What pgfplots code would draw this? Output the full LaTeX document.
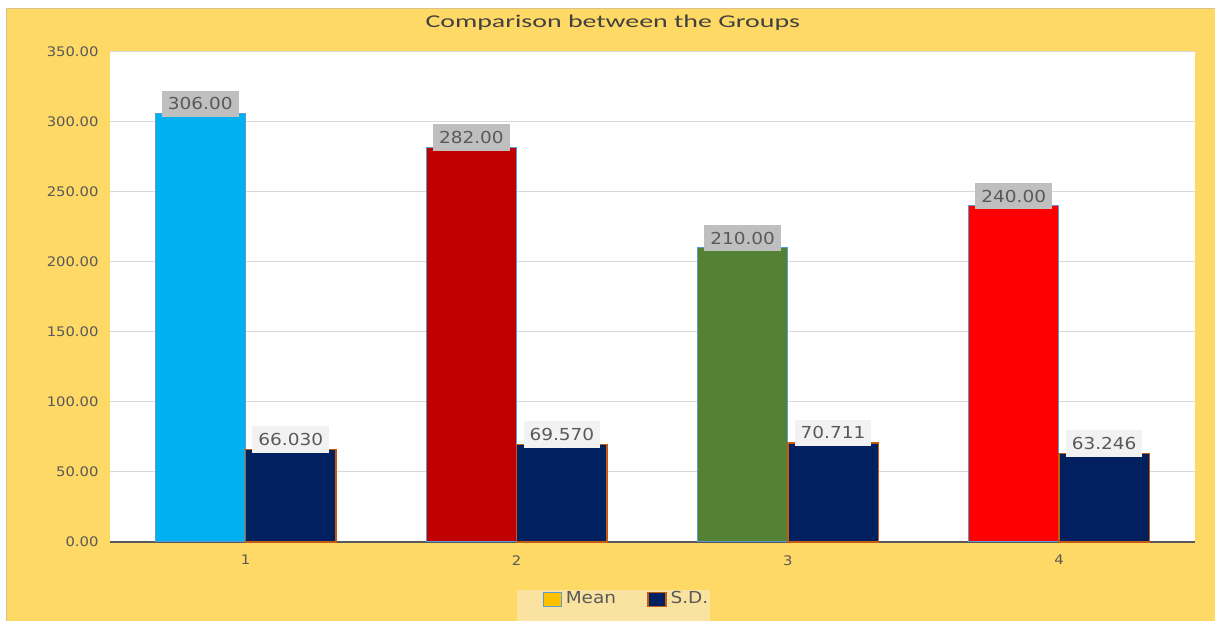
\documentclass[border=0pt]{standalone}
\usepackage{fontspec}
\setmainfont{DejaVu Sans}
\newfontfamily\numfam{DejaVu Sans}[FakeStretch=1.12]
\newfontfamily\titlefont{Carlito}[FakeStretch=1.55]
\usepackage{pgfplots}
\pgfplotsset{compat=1.18}

\definecolor{bgyellow}{HTML}{FFD966}
\definecolor{bgedge}{HTML}{D8C28A}
\definecolor{legbg}{HTML}{FAE3A0}
\definecolor{txtgray}{HTML}{595959}
\definecolor{titlegray}{HTML}{404040}
\definecolor{gridgray}{HTML}{D9D9D9}
\definecolor{gOne}{HTML}{00B0F0}
\definecolor{gTwo}{HTML}{C00000}
\definecolor{gThree}{HTML}{548235}
\definecolor{gFour}{HTML}{FF0000}
\definecolor{sdnavy}{HTML}{002060}
\definecolor{sdedge}{HTML}{C55A11}
\definecolor{meanedge}{HTML}{5B9BD5}
\definecolor{legmean}{HTML}{FFC000}
\definecolor{lblmean}{HTML}{BFBFBF}
\definecolor{lblsd}{HTML}{F2F2F2}

\newcommand{\numfont}{\numfam\fontsize{6.6}{8}\selectfont}

% bars are placed at their own x positions (group -/+ half a bar)
\pgfplotsset{
  meanbar/.style={ybar, bar width=0.3336, bar shift=0,
    draw=meanedge, line width=0.4pt, forget plot,
    nodes near coords={\pgfmathprintnumber[fixed, fixed zerofill, precision=2, assume math mode=true]{\pgfplotspointmeta}},
    nodes near coords style={anchor=south, yshift=-1.6pt, fill=lblmean,
      text=txtgray, font=\numfont, inner xsep=2.4pt, inner ysep=2.8pt}},
  sdbar/.style={ybar, bar width=0.3336, bar shift=0,
    fill=sdnavy, draw=sdedge, line width=0.6pt, forget plot,
    nodes near coords={\pgfmathprintnumber[fixed, fixed zerofill, precision=3, assume math mode=true]{\pgfplotspointmeta}},
    nodes near coords style={anchor=south, yshift=-1.6pt, fill=lblsd,
      text=txtgray, font=\numfont, inner xsep=2.4pt, inner ysep=2.8pt}},
}

\begin{document}
\begin{tikzpicture}
  % page and chart area
  \fill[white] (0pt,0pt) rectangle (486pt,248.4pt);
  \fill[bgyellow] (2.8pt,0pt) rectangle (486pt,244.8pt);
  \draw[bgedge, line width=0.4pt] (2.8pt,0pt) -- (2.8pt,244.8pt) -- (486pt,244.8pt);
  % legend band
  \fill[legbg] (206.8pt,0pt) rectangle (284pt,12.4pt);
  % title
  \node[text=titlegray, font=\titlefont\fontsize{7.2}{8.6}\selectfont] at (245.2pt,239.4pt) {Comparison between the Groups};

  \begin{axis}[
    at={(44pt,31.6pt)}, anchor=south west,
    width=434pt, height=196pt, scale only axis,
    xmin=0.5, xmax=4.5, ymin=0, ymax=350,
    xtick={1,2,3,4},
    ytick={0,50,100,150,200,250,300,350},
    yticklabels={0.00,50.00,100.00,150.00,200.00,250.00,300.00,350.00},
    xticklabels={1,2,3,4},
    ticklabel style={text=txtgray, font=\numfont, scale=0.8},
    yticklabel style={anchor=east, xshift=-2.2pt},
    xticklabel style={anchor=north, yshift=-3.2pt},
    axis lines*=left,
    x axis line style={txtgray, line width=0.8pt},
    y axis line style={draw=none},
    major tick length=0pt,
    ymajorgrids, grid style={gridgray, line width=0.4pt},
    axis background/.style={fill=white},
    clip=false,
    legend columns=2,
    legend style={at={(0.477,-0.118)}, anchor=center, draw=none, fill=none,
      text=txtgray, font=\numfont, inner sep=0pt,
      nodes={inner xsep=1.5pt, inner ysep=1pt}},
    legend cell align=left,
    /tikz/every even column/.append style={column sep=11pt},
    legend image code/.code={\draw[#1] (0pt,-2.8pt) rectangle (7.2pt,2.8pt);},
  ]
    % group means
    \addplot[meanbar, fill=gOne]   coordinates {(0.8332,306)};
    \addplot[meanbar, fill=gTwo]   coordinates {(1.8332,282)};
    \addplot[meanbar, fill=gThree] coordinates {(2.8332,210)};
    \addplot[meanbar, fill=gFour]  coordinates {(3.8332,240)};
    % standard deviations
    \addplot[sdbar] coordinates {(1.1668,66.030) (2.1668,69.570) (3.1668,70.711) (4.1668,63.246)};

    \addlegendimage{fill=legmean, draw=meanedge, line width=0.6pt}
    \addlegendentry{Mean}
    \addlegendimage{fill=sdnavy, draw=sdedge, line width=0.6pt}
    \addlegendentry{S.D.}
  \end{axis}
\end{tikzpicture}
\end{document}
